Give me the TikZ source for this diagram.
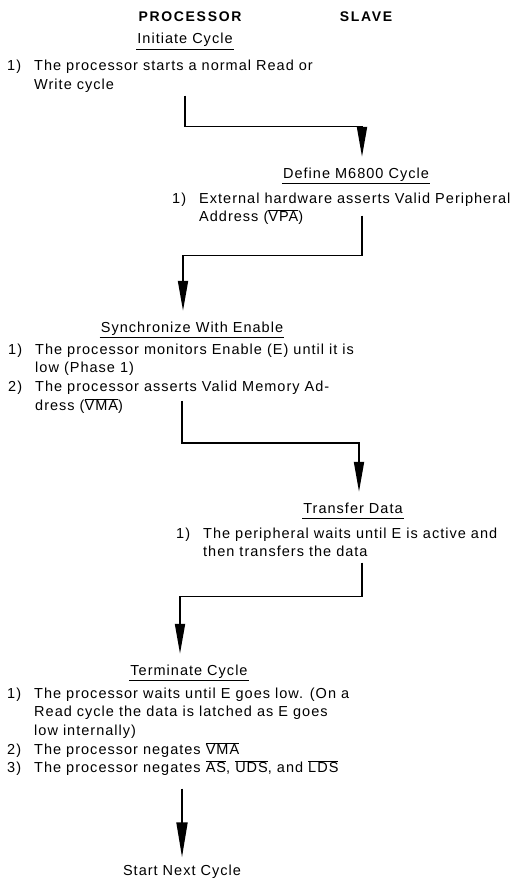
\documentclass[tikz,border=0pt]{standalone}
\usepackage{fontspec}
\setmainfont{Liberation Sans}
\newfontfamily\flowfont[LetterSpace=7]{Liberation Sans}
\usetikzlibrary{arrows.meta, positioning, calc}
\newcommand{\ovl}[1]{$\overline{\mbox{#1}}$}
\newcommand{\steplist}[1]{\begin{tabular}[t]{@{}p{27pt}@{}l@{}}#1\end{tabular}}
\tikzset{
  colhead/.style={font=\fontsize{14}{17}\selectfont\bfseries\addfontfeature{LetterSpace=12},
    anchor=base, inner sep=0pt},
  phase/.style={font=\flowfont\fontsize{14.5}{18.7}\selectfont, anchor=base,
    inner xsep=1pt, inner ysep=5.5pt, text depth=0pt},
  steptext/.style={font=\flowfont\fontsize{14.5}{18.7}\selectfont, anchor=base west, inner sep=0pt},
  uline/.style={line width=1.2pt},
  flow/.style={line width=1.8pt, -{Triangle[length=30pt,width=10pt]}}
}
\begin{document}
\begin{tikzpicture}[x=1pt, y=-1pt]
  \useasboundingbox (0,0) rectangle (514,880);
  % column titles
  \node[colhead] (proc) at (190,22) {PROCESSOR};
  \node[colhead] (slave) at (366,22) {SLAVE};
  % phases
  \node[phase] (init) at (185,44) {Initiate Cycle};
  \node[steptext] (i1) at (7,71) {\steplist{1) & The processor starts a normal Read or\\
    & Write cycle}};
  \node[phase] (define) at (356,178) {Define M6800 Cycle};
  \node[steptext] (i2) at (172,203) {\steplist{1) & External hardware asserts Valid Peripheral\\
    & Address (\ovl{VPA})}};
  \node[phase] (sync) at (192,332) {Synchronize With Enable};
  \node[steptext] (i3) at (8,354) {\steplist{1) & The processor monitors Enable (E) until it is\\
    & low (Phase 1)\\
    2) & The processor asserts Valid Memory Ad-\\
    & dress (\ovl{VMA})}};
  \node[phase] (xfer) at (353,513) {Transfer Data};
  \node[steptext] (i4) at (176,538) {\steplist{1) & The peripheral waits until E is active and\\
    & then transfers the data}};
  \node[phase] (term) at (189,675) {Terminate Cycle};
  \node[steptext] (i5) at (7,698) {\steplist{1) & The processor waits until E goes low. (On a\\
    & Read cycle the data is latched as E goes\\
    & low internally)\\
    2) & The processor negates \ovl{VMA}\\
    3) & The processor negates \ovl{AS}, \ovl{UDS}, and \ovl{LDS}}};
  \node[font=\flowfont\fontsize{14.5}{18.7}\selectfont, anchor=base, inner sep=0pt] (next) at (182,875) {Start Next Cycle};
  \foreach \n in {init,define,sync,xfer,term}
    \draw[uline] (\n.south west) -- (\n.south east);
  % hand-over arrows
  \draw[flow, shorten >=5pt] (init |- i1.south) -- ++(0,31) -| ([xshift=6pt]define.north);
  \draw[flow, shorten >=5pt] ($(define |- i2.south)+(6,-12)$) -- ++(0,40) -| ([xshift=-9pt]sync.north);
  \draw[flow, shorten >=5pt] ($(sync |- i3.south)+(-10,-15)$) -- ++(0,42) -| ([xshift=6pt]xfer.north);
  \draw[flow, shorten >=5pt] ($(xfer |- i4.south)+(9,0)$) -- ++(0,34) -| ([xshift=-9pt]term.north);
  \draw[flow, -{Triangle[length=35pt,width=11pt]}, shorten >=7pt] ($(next |- i5.south)+(0,10)$) -- (next.north);
\end{tikzpicture}
\end{document}
